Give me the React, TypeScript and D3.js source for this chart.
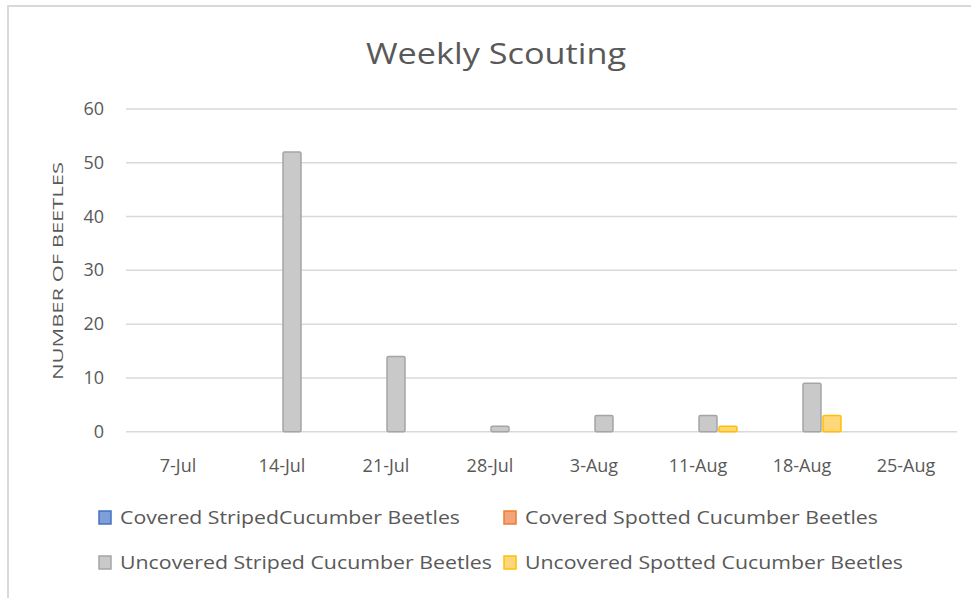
import * as d3 from 'd3';
import React, { useEffect, useRef } from 'react';

const weeks = ['7-Jul', '14-Jul', '21-Jul', '28-Jul', '3-Aug', '11-Aug', '18-Aug', '25-Aug'];
const seriesNames = [
    'Covered StripedCucumber Beetles',
    'Covered Spotted Cucumber Beetles',
    'Uncovered Striped Cucumber Beetles',
    'Uncovered Spotted Cucumber Beetles',
];
const coveredStriped = [0, 0, 0, 0, 0, 0, 0, 0];
const coveredSpotted = [0, 0, 0, 0, 0, 0, 0, 0];
const uncoveredStriped = [0, 52, 14, 1, 3, 3, 9, 0];
const uncoveredSpotted = [0, 0, 0, 0, 0, 1, 3, 0];
const yTicks = [0, 10, 20, 30, 40, 50, 60];

const strokeColors = ['#4472C4', '#ED7D31', '#A5A5A5', '#FFC000'];
const fillColors = ['#7f9fd8', '#f2a57a', '#c9c9c9', '#ffd77a'];

const App: React.FC = () => {
    const svgRef = useRef<SVGSVGElement | null>(null);

    useEffect(() => {
        const svg = d3.select(svgRef.current);
        svg.selectAll('*').remove();

        const font = "'Open Sans', 'DejaVu Sans', sans-serif";
        const textColor = '#595959';
        const values = [coveredStriped, coveredSpotted, uncoveredStriped, uncoveredSpotted];

        // frame of the chart area
        svg.append('path')
            .attr('d', 'M8,598 L8,6 L971,6')
            .attr('fill', 'none')
            .attr('stroke', '#d9d9d9')
            .attr('stroke-width', 2);

        svg.append('text')
            .attr('x', 496)
            .attr('y', 64)
            .attr('text-anchor', 'middle')
            .attr('font-family', font)
            .attr('font-size', 30)
            .attr('fill', textColor)
            .attr('textLength', 260)
            .attr('lengthAdjust', 'spacingAndGlyphs')
            .text('Weekly Scouting');

        const x = d3.scaleBand().domain(weeks).range([126, 958]);
        const x1 = d3.scaleBand().domain(seriesNames).range([12, 92]);
        const y = d3.scaleLinear().domain([0, 60]).range([431.7, 109]);

        // gridlines
        svg.append('g')
            .selectAll('line')
            .data(yTicks)
            .enter()
            .append('line')
            .attr('x1', 126)
            .attr('x2', 957)
            .attr('y1', d => y(d))
            .attr('y2', d => y(d))
            .attr('stroke', '#d9d9d9')
            .attr('stroke-width', 1.5);

        svg.append('g')
            .selectAll('text')
            .data(yTicks)
            .enter()
            .append('text')
            .attr('x', 104)
            .attr('y', d => y(d) + 6)
            .attr('text-anchor', 'end')
            .attr('font-family', font)
            .attr('font-size', 18)
            .attr('fill', textColor)
            .text(d => d);

        svg.append('text')
            .attr('transform', 'translate(63,271) rotate(-90)')
            .attr('text-anchor', 'middle')
            .attr('font-family', font)
            .attr('font-size', 15)
            .attr('fill', textColor)
            .attr('textLength', 218)
            .attr('lengthAdjust', 'spacingAndGlyphs')
            .text('NUMBER OF BEETLES');

        // bars
        seriesNames.forEach((name, si) => {
            const rows = weeks.map((w, i) => ({ w, v: values[si][i] })).filter(d => d.v > 0);
            svg.append('g')
                .selectAll('rect')
                .data(rows)
                .enter()
                .append('rect')
                .attr('x', d => x(d.w)! + x1(name)! + 1)
                .attr('y', d => y(d.v))
                .attr('width', x1.bandwidth() - 2)
                .attr('height', d => y(0) - y(d.v))
                .attr('rx', 1.5)
                .attr('fill', fillColors[si])
                .attr('stroke', strokeColors[si])
                .attr('stroke-width', 1.5);
        });

        svg.append('g')
            .selectAll('text')
            .data(weeks)
            .enter()
            .append('text')
            .attr('x', d => x(d)! + x.bandwidth() / 2)
            .attr('y', 472)
            .attr('text-anchor', 'middle')
            .attr('font-family', font)
            .attr('font-size', 18)
            .attr('fill', textColor)
            .text(d => d);

        // legend
        const legendPos = [
            { x: 99, y: 518, w: 340 },
            { x: 504, y: 518, w: 353 },
            { x: 99, y: 563, w: 372 },
            { x: 504, y: 563, w: 378 },
        ];
        const legend = svg.append('g')
            .selectAll('g')
            .data(seriesNames)
            .enter()
            .append('g')
            .attr('transform', (d, i) => `translate(${legendPos[i].x},${legendPos[i].y})`);
        legend.append('rect')
            .attr('x', 0)
            .attr('y', -7)
            .attr('width', 12)
            .attr('height', 13)
            .attr('fill', (d, i) => fillColors[i])
            .attr('stroke', (d, i) => strokeColors[i])
            .attr('stroke-width', 1.5);
        legend.append('text')
            .attr('x', 21)
            .attr('y', 6)
            .attr('font-family', font)
            .attr('font-size', 17.5)
            .attr('fill', textColor)
            .attr('textLength', (d, i) => legendPos[i].w)
            .attr('lengthAdjust', 'spacingAndGlyphs')
            .text(d => d);
    }, []);

    return (
        <svg
            ref={svgRef}
            width={971}
            height={598}
            style={{ position: 'absolute', left: 0, top: 0, background: '#fff' }}
        />
    );
};

export default App;
